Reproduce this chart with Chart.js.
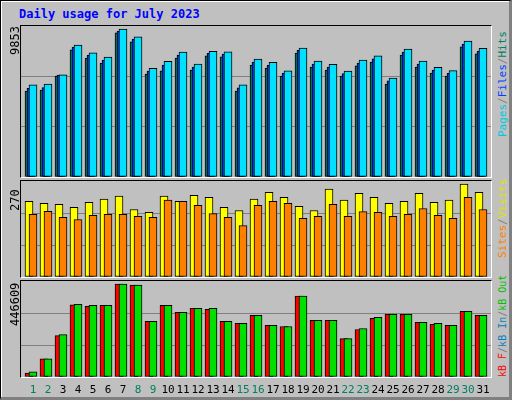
<!DOCTYPE html>
<html><head><meta charset="utf-8">
<script src="https://cdn.jsdelivr.net/npm/chart.js@4"></script>
<style>
html,body{margin:0;padding:0;background:#fff;}
#frame{position:absolute;left:0;top:0;width:508px;height:396px;background:#c0c0c0;border:1px solid #000;border-right:3px solid #808080;border-bottom:3px solid #808080;box-shadow:inset 1px 1px 0 #fff;box-sizing:content-box;}
.panel{position:absolute;left:20px;width:470px;border:1px solid #000;border-right-color:#fff;border-bottom-color:#fff;background:#c0c0c0;}
.panel canvas{display:block;}
.t{position:absolute;font-family:"DejaVu Sans Mono",monospace;font-size:12px;white-space:nowrap;line-height:13px;}
.rot{transform-origin:0 0;transform:rotate(-90deg);}
.rl{font-size:11px;}
#title{left:19px;top:8px;color:#0000ff;font-weight:bold;}
.day{font-size:11px;top:383px;width:16px;text-align:center;}
</style></head><body>
<div id="frame"></div>
<div class="t" id="title">Daily usage for July 2023</div>
<div class="panel" style="top:25px;height:151px"><canvas id="c1" width="470" height="151"></canvas></div>
<div class="panel" style="top:180px;height:96px"><canvas id="c2" width="470" height="96"></canvas></div>
<div class="panel" style="top:280px;height:96px"><canvas id="c3" width="470" height="96"></canvas></div>
<div class="t rot" style="left:9px;top:55px">9853</div>
<div class="t rot" style="left:9px;top:211px">270</div>
<div class="t rot" style="left:9px;top:326px">446609</div>
<div class="t rot rl" style="left:496px;top:137px"><span style="color:#00c8e0">Pages</span><span style="color:#808080">/</span><span style="color:#0040ff">Files</span><span style="color:#808080">/</span><span style="color:#008060">Hits</span></div>
<div class="t rot rl" style="left:496px;top:258px"><span style="color:#ff8000">Sites</span><span style="color:#808080">/</span><span style="color:#e0e000">Visits</span></div>
<div class="t rot rl" style="left:496px;top:377px;font-size:10px"><span style="color:#ff0000">kB F</span><span style="color:#808080">/</span><span style="color:#0080c0">kB In</span><span style="color:#808080">/</span><span style="color:#00c000">kB Out</span></div>
<div id="days"></div>
<script>
const days = Array.from({length:31},(_,i)=>i+1);
const weekendDays = [1,2,8,9,15,16,22,23,29,30];
const hits  = [5728,5794,6727,8458,7925,7592,9590,8991,6860,7060,7925,7126,8059,7992,5728,7459,7259,6727,8258,7326,7126,6727,7393,7659,6194,8125,7326,6926,6727,8658,8192];
const files = [5900,5960,6790,8640,8100,7790,9720,9180,7050,7450,8110,7310,8230,8180,5930,7650,7430,6900,8440,7510,7310,6880,7590,7860,6400,8320,7520,7110,6900,8850,8380];
const pages = [6130,6190,6800,8780,8260,7980,9853,9330,7240,7700,8320,7510,8370,8330,6130,7850,7640,7070,8590,7710,7500,7050,7780,8060,6590,8520,7720,7300,7080,9050,8560];
const visits = [220,214,211,202,217,226,235,196,188,235,220,237,231,202,193,226,246,231,205,193,255,223,243,231,214,220,243,217,223,270,246];
const sites  = [182,191,173,167,179,182,182,176,173,223,220,208,184,173,149,208,220,214,170,176,211,176,190,188,176,182,199,179,170,231,196];
const kbOut = [24270,87372,203868,349488,344634,344634,446609,441714,266970,344634,310656,330072,330072,266970,257262,296094,247554,242700,388320,271824,271824,184452,232992,286386,300948,300948,262116,257262,247554,315510,296094];
const kbF   = [19420,87372,199000,346000,339800,344634,446609,441714,266970,344634,310656,330072,325200,266970,257262,296094,247554,242700,388320,271824,271824,184452,228100,281500,300948,300948,262116,252400,247554,315510,296094];
const maxTop = 9853, maxMid = 270, maxBot = 446609;

const dayPx = 15.0;
function ds(vals, color, pxOff, w, ord){
  return {data: days.map((d,i)=>({x:d+pxOff/dayPx, y:vals[i]})), backgroundColor:color,
    borderColor:'#000', borderWidth:1, borderSkipped:false, barThickness:w, grouped:false, order:ord};
}
function make(id, sets, ymax){
  new Chart(document.getElementById(id), {
    type:'bar', data:{datasets:sets},
    options:{responsive:false, animation:false, devicePixelRatio:1,
      layout:{padding:0},
      plugins:{legend:{display:false}, tooltip:{enabled:false}},
      scales:{
        x:{type:'linear', offset:false, min:1-10/dayPx, max:31+10/dayPx, display:false},
        y:{min:0, max:ymax, display:true, border:{display:false},
           ticks:{display:false, stepSize:ymax/3, count:4},
           grid:{drawTicks:false, color:c=>(c.index===1||c.index===2)?'#808080':'rgba(0,0,0,0)', lineWidth:1},
           afterFit:s=>{s.width=0;}}
      }}
  });
}
make('c1',[ds(hits,'#00805c',-2,8,3), ds(files,'#0040ff',0,8,2), ds(pages,'#00e0ff',2,8,1)], maxTop*151/148);
make('c2',[ds(visits,'#ffff00',-2,8,2), ds(sites,'#ff8000',2,8,1)], maxMid*96/93);
make('c3',[ds(kbF,'#ff0000',-2,8,2), ds(kbOut,'#00e000',2,8,1)], maxBot*96/93);

const dd = document.getElementById('days');
days.forEach((d,i)=>{
  const e=document.createElement('div');
  e.className='t day'; e.textContent=d;
  e.style.left=(25+i*dayPx)+'px';
  e.style.color=weekendDays.includes(d)?'#008060':'#000';
  dd.appendChild(e);
});
</script>
</body></html>
